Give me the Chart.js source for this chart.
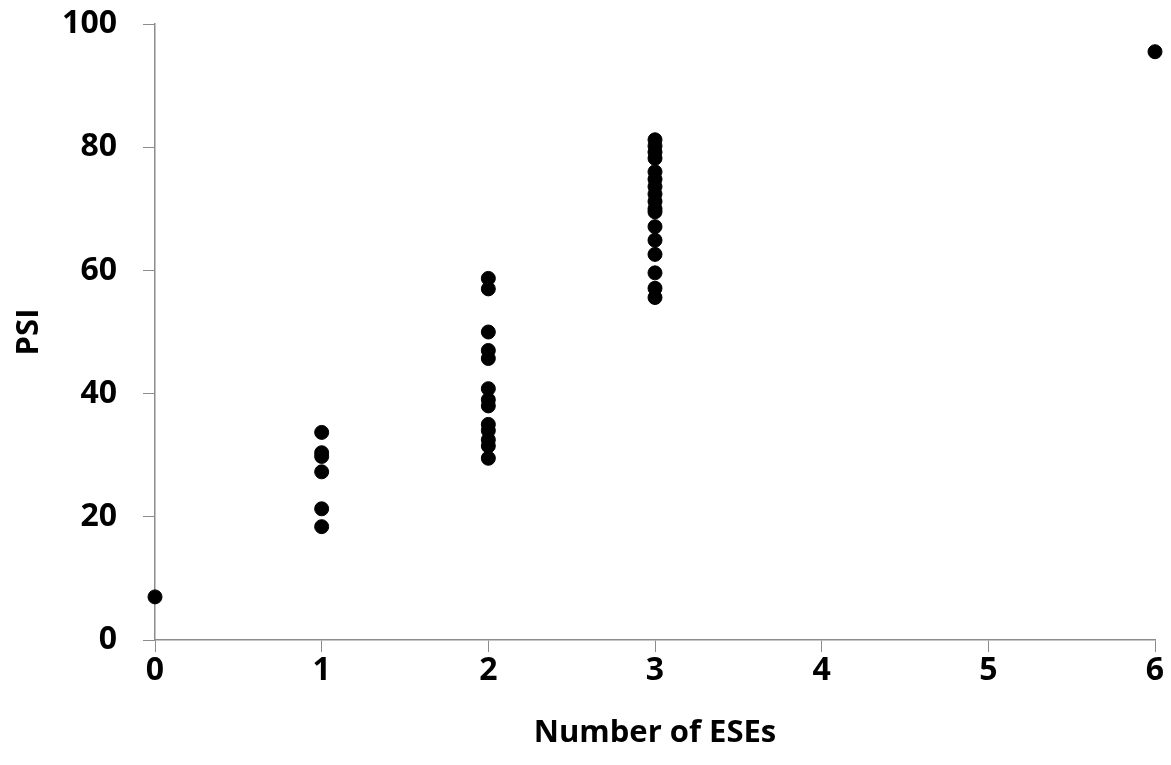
<!DOCTYPE html>
<html>
<head>
<meta charset="utf-8">
<script src="https://cdn.jsdelivr.net/npm/chart.js@4/dist/chart.umd.min.js"></script>
<style>
  html, body { margin: 0; padding: 0; background: #fff; }
  #wrap { width: 1171px; height: 765px; }
</style>
</head>
<body>
<div id="wrap"><canvas id="psi-chart"></canvas></div>
<script>
// PSI values grouped by number of ESEs
const eseCounts = [0, 1, 2, 3, 6];
const psiZero = [7.0];
const psiOne = [33.7, 30.4, 29.8, 27.3, 21.3, 18.4];
const psiTwo = [58.7, 57.0, 50.0, 47.0, 45.7, 40.8, 39.0, 38.0, 35.0, 34.0, 32.5, 31.5, 29.5];
const psiThree = [81.2, 80.2, 79.2, 78.2, 76.0, 74.8, 73.6, 72.4, 71.2, 70.0, 69.5,
                  67.1, 64.9, 62.6, 59.6, 57.1, 55.6];
const psiSix = [95.5];
const yTicks = [0, 20, 40, 60, 80, 100];

const groups = [psiZero, psiOne, psiTwo, psiThree, psiSix];
const points = [];
groups.forEach((vals, i) => {
    vals.forEach(v => points.push({ x: eseCounts[i], y: v }));
});

const axisGray = '#8c8c8c';
const tickFont = { family: 'Open Sans', size: 32, weight: 'bold' };
const titleFont = { family: 'Open Sans', size: 31, weight: 'bold' };

new Chart(document.getElementById('psi-chart'), {
    type: 'scatter',
    data: {
        datasets: [{
            label: 'PSI',
            data: points,
            backgroundColor: '#000',
            borderColor: '#000',
            pointRadius: 7,
            pointHoverRadius: 7,
            clip: false
        }]
    },
    options: {
        responsive: true,
        maintainAspectRatio: false,
        animation: false,
        layout: { padding: { top: 24, right: 16, left: 0, bottom: 0 } },
        plugins: {
            legend: { display: false },
            tooltip: { enabled: false }
        },
        scales: {
            x: {
                type: 'linear',
                min: 0,
                max: 6,
                ticks: { stepSize: 1, color: '#000', font: tickFont, padding: 0 },
                grid: { drawOnChartArea: false, drawTicks: true, tickLength: 12, color: axisGray },
                border: { color: axisGray, width: 1.5 },
                title: { display: true, text: 'Number of ESEs', color: '#000', font: titleFont, padding: { top: 0, bottom: 13 } },
                afterFit: s => { s.height = 125; s.paddingLeft = 0; s.paddingRight = 0; }
            },
            y: {
                min: 0,
                max: 100,
                afterBuildTicks: s => { s.ticks = yTicks.map(v => ({ value: v })); },
                ticks: { color: '#000', font: tickFont, padding: 26 },
                grid: { drawOnChartArea: false, drawTicks: true, tickLength: 12, color: axisGray },
                border: { color: axisGray, width: 1.5 },
                title: { display: true, text: 'PSI', color: '#000', font: titleFont, padding: { top: 11, bottom: 0 } },
                // keep the plot box fixed instead of growing around the tick labels
                afterFit: s => { s.width = 155; s.paddingTop = 0; s.paddingBottom = 0; }
            }
        }
    }
});
</script>
</body>
</html>
